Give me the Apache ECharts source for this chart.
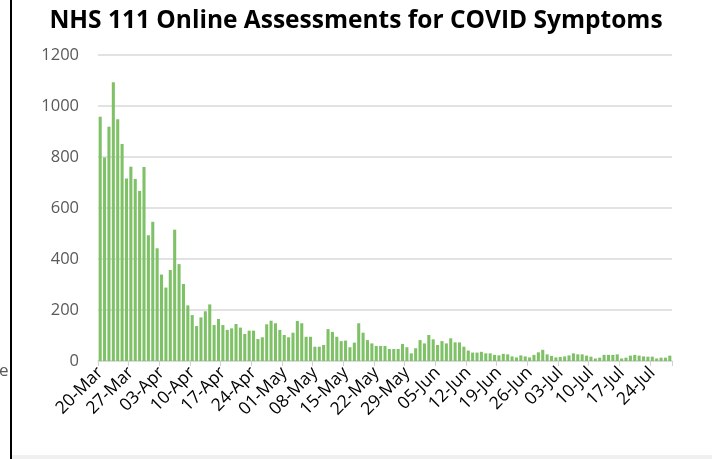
<!DOCTYPE html>
<html>
<head>
<meta charset="utf-8">
<script src="https://cdn.jsdelivr.net/npm/echarts@6/dist/echarts.min.js"></script>
<style>
html,body{margin:0;padding:0;background:#fff;}
#chart{width:712px;height:459px;}
</style>
</head>
<body>
<div id="chart"></div>
<script>
// Chart data
const titleText = "NHS 111 Online Assessments for COVID Symptoms";
const startDate = "2020-03-20";
const monthNames = ["Jan","Feb","Mar","Apr","May","Jun","Jul","Aug","Sep","Oct","Nov","Dec"];
const assessments = [
  958, 798, 919, 1093, 948, 851, 716, 762, 714, 667, 761, 493, 546, 442, 339, 288, 357, 515, 380, 302,
  218, 180, 137, 171, 195, 222, 141, 165, 141, 122, 128, 145, 131, 106, 119, 119, 86, 93, 144, 158,
  148, 122, 102, 93, 111, 157, 148, 95, 95, 56, 56, 63, 125, 114, 95, 78, 80, 54, 72, 148,
  111, 82, 69, 59, 59, 59, 47, 47, 47, 67, 54, 30, 50, 82, 69, 102, 85, 63, 78, 69,
  89, 73, 73, 56, 41, 33, 33, 36, 30, 30, 24, 22, 28, 26, 18, 14, 22, 18, 14, 24,
  34, 44, 26, 20, 14, 16, 18, 22, 30, 26, 26, 21, 17, 10, 13, 24, 24, 24, 26, 10,
  13, 21, 24, 21, 18, 17, 17, 10, 13, 13, 21
];
const yTicks = [0, 200, 400, 600, 800, 1000, 1200];

// Build category labels (one per day)
const categories = [];
(function(){
  const d = new Date(startDate + "T00:00:00Z");
  for (let i = 0; i < assessments.length; i++) {
    const dd = String(d.getUTCDate()).padStart(2, "0");
    categories.push(dd + "-" + monthNames[d.getUTCMonth()]);
    d.setUTCDate(d.getUTCDate() + 1);
  }
})();

const chart = echarts.init(document.getElementById('chart'), null, {renderer: 'canvas'});
const font = '"Open Sans", "Noto Sans", sans-serif';
chart.setOption({
  backgroundColor: '#ffffff',
  animation: false,
  title: {
    text: titleText,
    left: 'center',
    top: 4,
    textStyle: {fontFamily: font, fontWeight: 'bold', fontSize: 24.5, color: '#000'}
  },
  grid: {left: 98, right: 40, top: 55, bottom: 98, containLabel: false},
  xAxis: {
    type: 'category',
    data: categories,
    boundaryGap: true,
    axisLine: {show: true, lineStyle: {color: '#d9d9d9', width: 1.5}},
    axisTick: {show: true, interval: 6, length: 5, lineStyle: {color: '#d0d0d0'}},
    axisLabel: {interval: 6, rotate: 45, fontFamily: font, fontSize: 17.5, color: '#000', margin: 9}
  },
  yAxis: {
    type: 'value',
    min: yTicks[0],
    max: yTicks[yTicks.length - 1],
    interval: 200,
    axisLine: {show: false},
    axisTick: {show: false},
    splitLine: {lineStyle: {color: '#d9d9d9', width: 1.5}},
    axisLabel: {fontFamily: font, fontSize: 16.5, color: '#595959', margin: 19,
      formatter: function (v) { return String(v); }}
  },
  series: [{
    type: 'bar',
    data: assessments,
    barCategoryGap: '30%',
    itemStyle: {color: '#7fc167'}
  }],
  graphic: [
    {type: 'rect', left: 10, top: 0, shape: {width: 2, height: 459}, style: {fill: '#000'}},
    {type: 'text', left: -1, top: 363, style: {text: 'e', fontFamily: font, fontSize: 17, fill: '#595959'}},
    {type: 'rect', left: 12, top: 455, shape: {width: 700, height: 4}, style: {fill: '#f0f0f0'}}
  ]
});
</script>
</body>
</html>
